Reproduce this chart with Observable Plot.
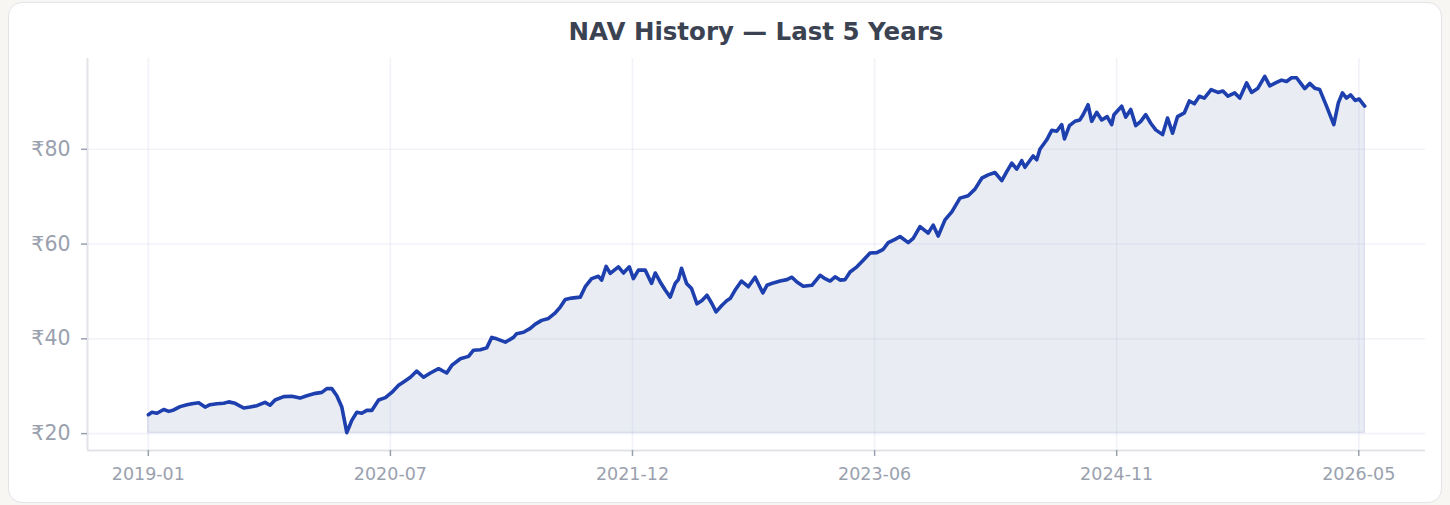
<!DOCTYPE html>
<html>
<head>
<meta charset="utf-8">
<script src="https://cdn.jsdelivr.net/npm/d3@7"></script>
<script src="https://cdn.jsdelivr.net/npm/@observablehq/plot@0.6"></script>
<style>
  html, body { margin: 0; padding: 0; background: #f7f6f2; width: 1450px; height: 505px; overflow: hidden; }
  #card { position: absolute; left: 8px; top: 2px; width: 1432px; height: 499px; background: #ffffff;
          border: 1px solid #e3e4e8; border-radius: 14px; }
  #title { position: absolute; left: 87px; width: 1338px; top: 17px; text-align: center;
           font-family: "DejaVu Sans", sans-serif; font-weight: bold; font-size: 24.5px; color: #3b4352; }
  #chart { position: absolute; left: 0; top: 50px; }
</style>
</head>
<body>
<div id="card"></div>
<div id="title">NAV History — Last 5 Years</div>
<div id="chart"></div>
<script>
const dates = [
"2019-01-20","2019-01-28","2019-02-08","2019-02-23","2019-03-06","2019-03-17","2019-03-31","2019-04-15","2019-04-26","2019-05-11",
"2019-05-25","2019-06-05","2019-06-20","2019-07-05","2019-07-16","2019-07-30","2019-08-18","2019-09-01","2019-09-16","2019-10-04",
"2019-10-15","2019-10-26","2019-11-14","2019-12-02","2019-12-20","2020-01-04","2020-01-23","2020-02-06","2020-02-17","2020-02-28",
"2020-03-10","2020-03-21","2020-04-01","2020-04-12","2020-04-23","2020-05-04","2020-05-15","2020-05-26","2020-06-10","2020-06-25",
"2020-07-09","2020-07-24","2020-08-04","2020-08-19","2020-09-02","2020-09-17","2020-10-02","2020-10-20","2020-11-07","2020-11-18",
"2020-12-07","2020-12-25","2021-01-05","2021-01-20","2021-02-03","2021-02-14","2021-02-25","2021-03-16","2021-04-03","2021-04-10",
"2021-04-25","2021-05-10","2021-05-21","2021-06-04","2021-06-19","2021-07-04","2021-07-15","2021-07-26","2021-08-09","2021-08-28",
"2021-09-08","2021-09-22","2021-10-07","2021-10-14","2021-10-24","2021-11-02","2021-11-20","2021-12-01","2021-12-14","2021-12-23",
"2022-01-03","2022-01-18","2022-02-01","2022-02-09","2022-02-20","2022-03-03","2022-03-14","2022-03-25","2022-04-01","2022-04-08",
"2022-04-19","2022-04-30","2022-05-12","2022-05-23","2022-06-03","2022-06-14","2022-06-23","2022-07-06","2022-07-17","2022-07-24",
"2022-08-04","2022-08-18","2022-09-02","2022-09-17","2022-10-04","2022-10-13","2022-10-27","2022-11-11","2022-11-26","2022-12-07",
"2022-12-18","2023-01-01","2023-01-20","2023-02-07","2023-02-18","2023-03-01","2023-03-12","2023-03-23","2023-04-03","2023-04-14",
"2023-04-29","2023-05-13","2023-05-28","2023-06-12","2023-06-26","2023-07-07","2023-07-22","2023-08-02","2023-08-20","2023-08-31",
"2023-09-15","2023-10-03","2023-10-14","2023-10-25","2023-11-09","2023-11-24","2023-12-12","2023-12-30","2024-01-14","2024-01-29",
"2024-02-12","2024-02-27","2024-03-13","2024-03-24","2024-04-04","2024-04-15","2024-04-26","2024-05-03","2024-05-21","2024-05-29",
"2024-06-05","2024-06-20","2024-07-01","2024-07-12","2024-07-23","2024-07-29","2024-08-09","2024-08-21","2024-09-01","2024-09-08",
"2024-09-19","2024-09-27","2024-10-08","2024-10-19","2024-10-31","2024-11-10","2024-11-15","2024-12-02","2024-12-11","2024-12-22",
"2025-01-02","2025-01-13","2025-01-24","2025-02-04","2025-02-15","2025-03-02","2025-03-13","2025-03-24","2025-04-04","2025-04-19",
"2025-04-30","2025-05-11","2025-05-22","2025-06-02","2025-06-17","2025-07-02","2025-07-13","2025-07-24","2025-08-08","2025-08-19",
"2025-09-03","2025-09-14","2025-09-28","2025-10-13","2025-10-24","2025-11-08","2025-11-19","2025-11-30","2025-12-11","2025-12-22",
"2026-01-02","2026-01-09","2026-01-20","2026-01-31","2026-02-11","2026-02-26","2026-03-14","2026-03-24","2026-04-02","2026-04-11",
"2026-04-20","2026-04-30","2026-05-09","2026-05-21"
];
const navs = [
24.0,24.5,24.3,25.1,24.7,25.0,25.7,26.1,26.3,26.5,
25.6,26.1,26.3,26.4,26.7,26.4,25.4,25.6,25.9,26.6,
26.0,27.1,27.8,27.9,27.5,28.0,28.5,28.7,29.5,29.5,
28.0,25.6,20.2,22.8,24.5,24.3,24.9,24.9,27.1,27.6,
28.7,30.2,30.9,31.9,33.2,31.9,32.8,33.7,32.8,34.4,
35.8,36.3,37.6,37.7,38.1,40.3,40.0,39.3,40.3,41.1,
41.4,42.2,43.1,43.9,44.3,45.5,46.7,48.3,48.6,48.8,
51.0,52.7,53.2,52.4,55.3,53.8,55.2,53.9,55.2,52.7,
54.5,54.5,51.7,53.9,52.0,50.3,48.8,51.7,52.5,54.9,
51.7,50.6,47.4,48.1,49.2,47.4,45.7,47.1,48.1,48.5,
50.3,52.2,51.0,53.0,49.7,51.3,51.8,52.2,52.5,53.0,
52.0,51.1,51.3,53.4,52.7,52.2,53.1,52.4,52.5,54.1,
55.2,56.6,58.1,58.2,58.9,60.3,61.0,61.6,60.3,61.2,
63.7,62.3,64.0,61.7,65.1,66.8,69.7,70.2,71.6,73.9,
74.6,75.1,73.4,75.3,77.1,75.8,77.6,76.2,78.6,77.8,
80.0,82.0,84.0,83.8,85.2,82.2,85.0,85.9,86.2,87.3,
89.4,85.9,87.8,86.2,86.9,85.2,87.3,89.1,86.8,88.4,
85.0,85.9,87.3,85.5,84.1,83.1,86.6,83.4,86.9,87.7,
90.2,89.6,91.2,90.8,92.6,92.0,92.3,91.2,91.9,90.8,
94.0,92.0,92.9,95.4,93.4,94.1,94.6,94.3,95.1,95.1,
93.7,92.8,93.9,92.9,92.6,89.1,85.2,89.8,91.9,90.8,
91.5,90.3,90.6,89.1
];
const xTickDates = ["2019-01-20","2020-07-06","2021-12-21","2023-06-07","2024-11-21","2026-05-08"];
const yTickValues = [20, 40, 60, 80];

const data = dates.map((d, i) => ({date: new Date(d + "T00:00:00Z"), nav: navs[i]}));
const xTicks = xTickDates.map(d => new Date(d + "T00:00:00Z"));

const [x0, x1] = d3.extent(data, d => d.date);
const xPad = (x1 - x0) * 0.05;
const xDomain = [new Date(+x0 - xPad), new Date(+x1 + xPad)];
const [y0, y1] = d3.extent(navs);
const yPad = (y1 - y0) * 0.05;
const yDomain = [y0 - yPad, y1 + yPad];

const gridColor = "rgb(190,192,225)";
const chart = Plot.plot({
  width: 1450,
  height: 440,
  marginLeft: 87,
  marginRight: 25,
  marginTop: 8,
  marginBottom: 40,
  style: {background: "transparent", fontFamily: "DejaVu Sans, sans-serif", color: "#9aa1ae", overflow: "visible"},
  x: {type: "utc", domain: xDomain},
  y: {domain: yDomain},
  marks: [
    Plot.areaY(data, {x: "date", y1: y0, y2: "nav", fill: "#e9edf3", stroke: "#dcdff0", strokeWidth: 1.5}),
    Plot.gridX(xTicks, {stroke: gridColor, strokeOpacity: 0.2, strokeWidth: 1.6}),
    Plot.gridY(yTickValues, {stroke: gridColor, strokeOpacity: 0.2, strokeWidth: 1.6}),
    Plot.ruleX([xDomain[0]], {stroke: "#e1e3e8", strokeWidth: 2}),
    Plot.ruleY([yDomain[0]], {stroke: "#e1e3e8", strokeWidth: 2}),
    Plot.lineY(data, {x: "date", y: "nav", stroke: "#1e3fae", strokeWidth: 3.6, strokeLinejoin: "round", strokeLinecap: "round"}),
    Plot.axisY(yTickValues, {tickFormat: d => "₹" + d, tickSize: 6, tickPadding: 11, fontSize: 20.5, label: null, stroke: "#9aa1ae", strokeWidth: 1.5}),
    Plot.axisX(xTicks, {tickFormat: d3.utcFormat("%Y-%m"), tickSize: 6, tickPadding: 11, fontSize: 17.5, label: null, stroke: "#9aa1ae", strokeWidth: 1.5})
  ]
});
document.getElementById("chart").appendChild(chart);
</script>
</body>
</html>
